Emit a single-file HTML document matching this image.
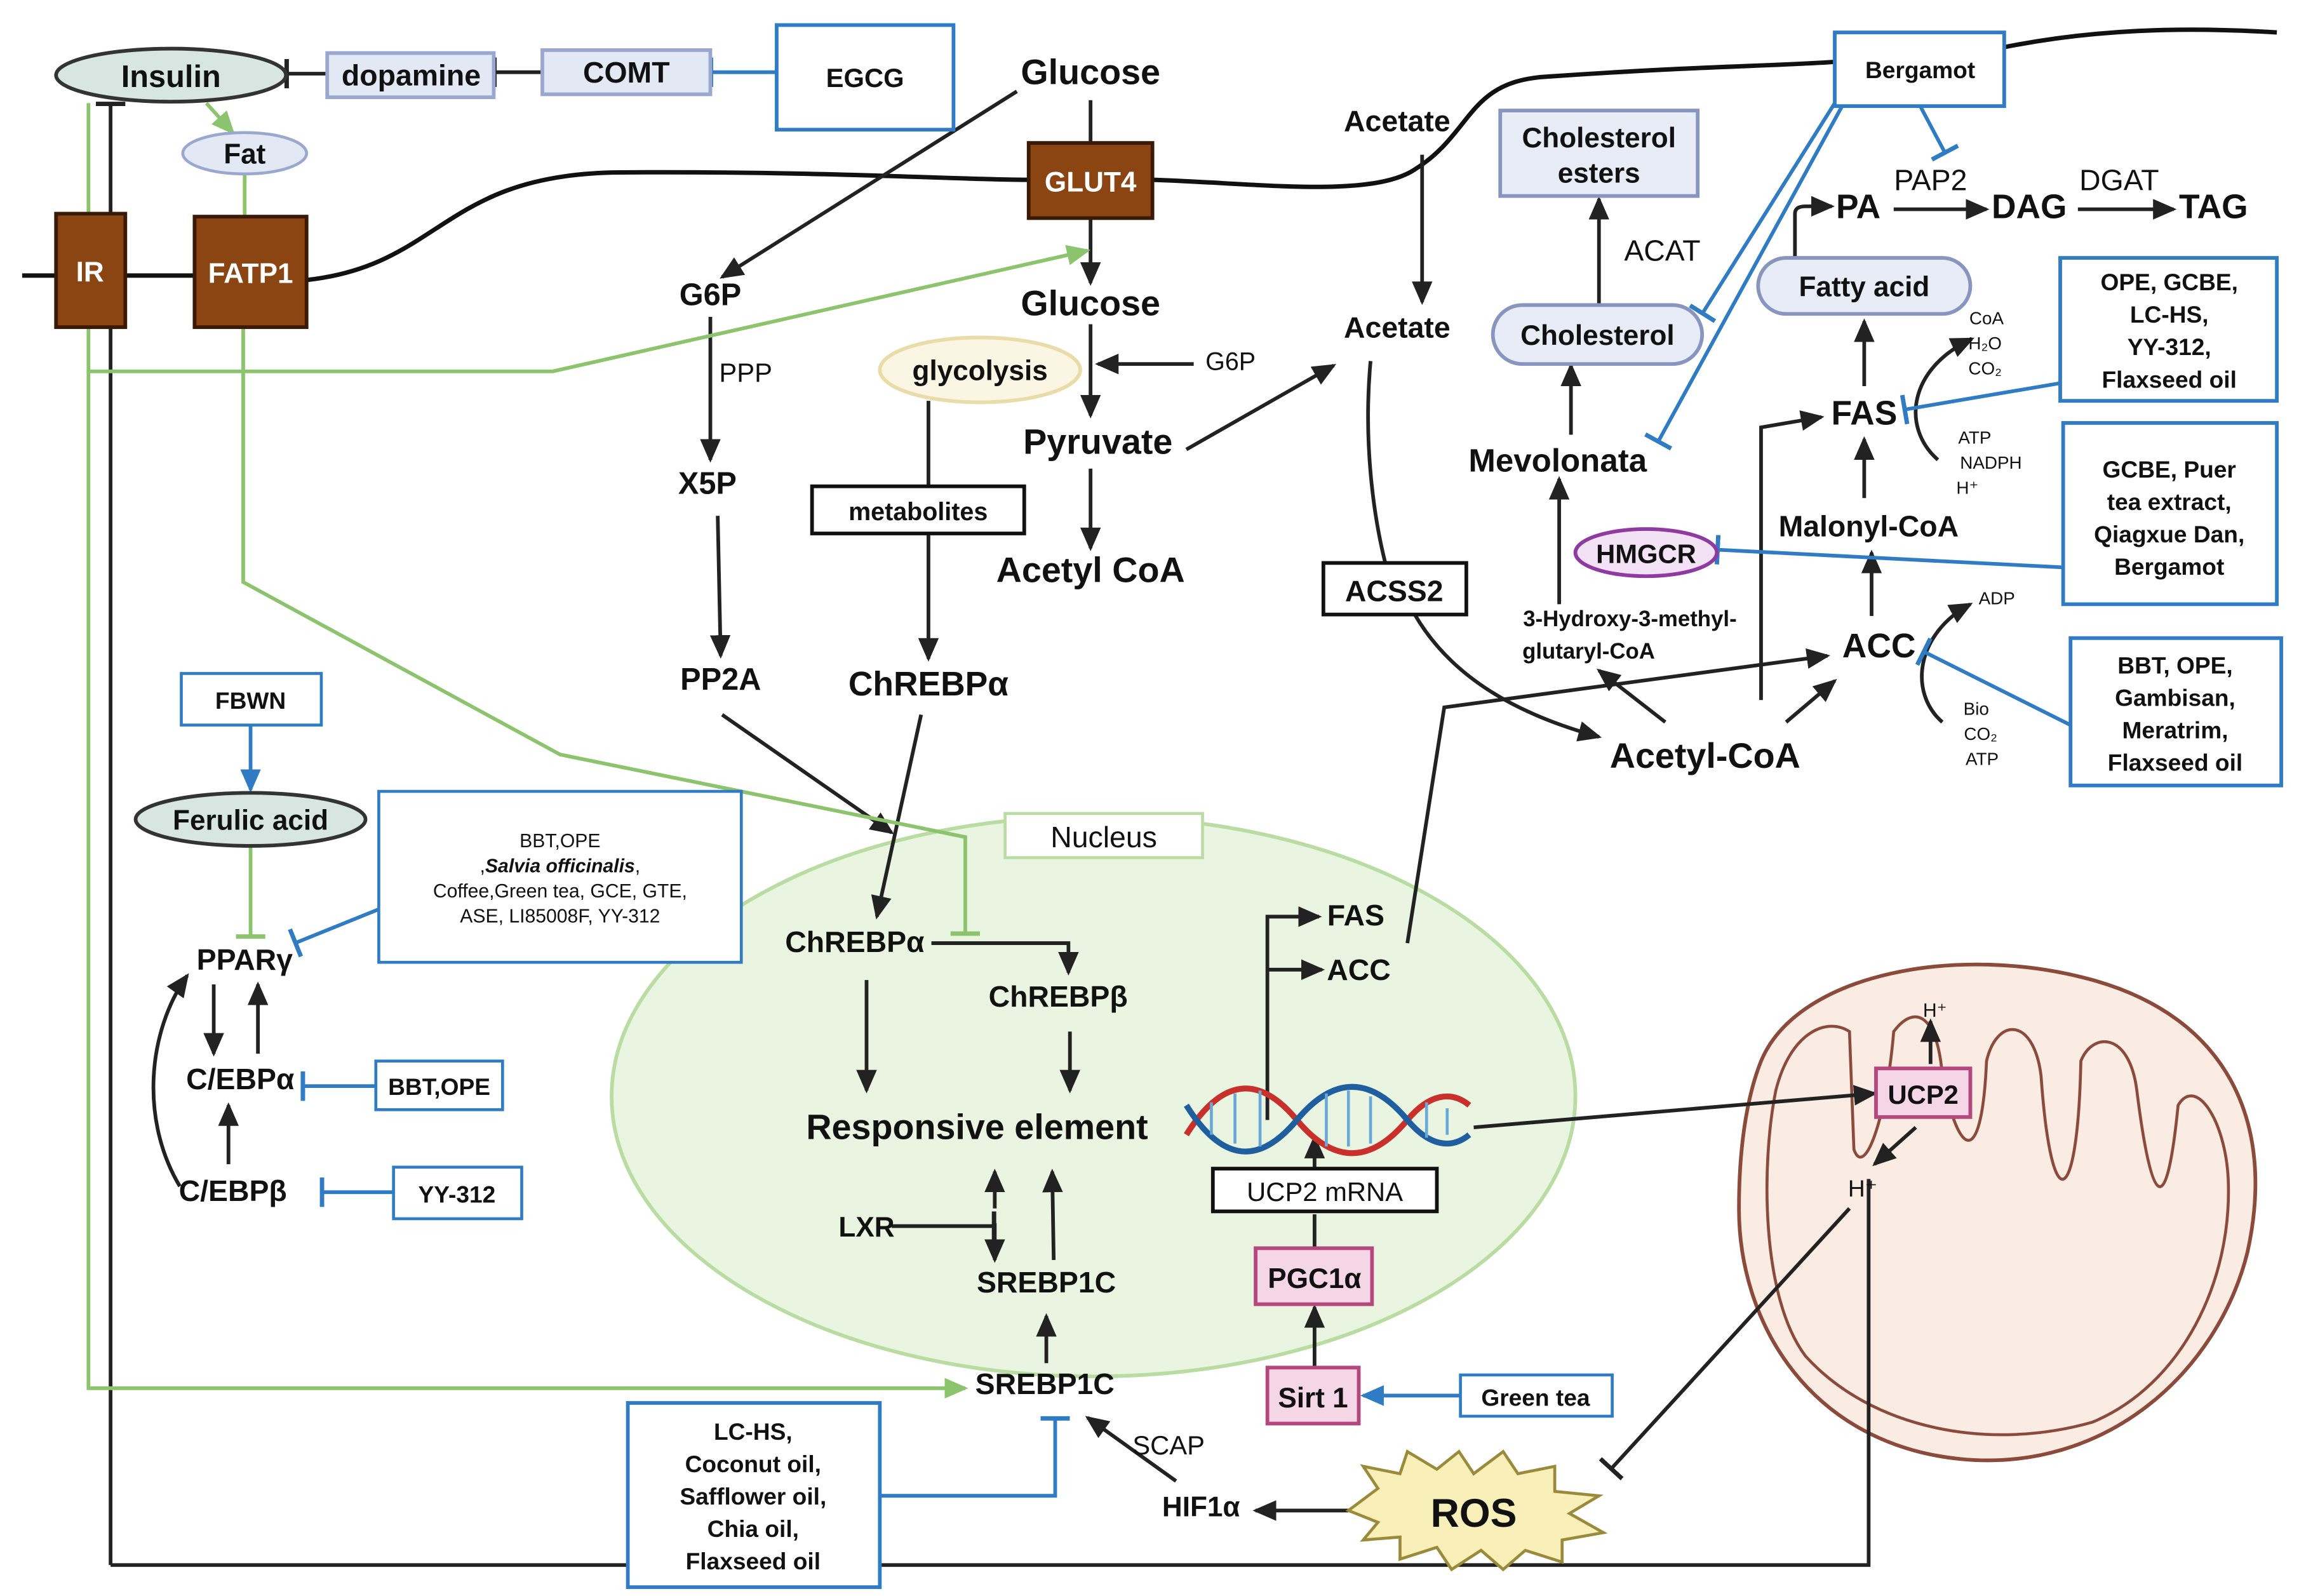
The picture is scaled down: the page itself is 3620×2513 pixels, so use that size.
<!DOCTYPE html>
<html><head><meta charset="utf-8"><style>
html,body{margin:0;padding:0;background:#fff}
svg{display:block}
text{font-family:"Liberation Sans",Arial,sans-serif;fill:#111}
.b{font-weight:bold}
</style></head><body>
<svg width="3620" height="2513" viewBox="0 0 1560 1083" xmlns="http://www.w3.org/2000/svg">
<defs>
<marker id="ak" markerUnits="userSpaceOnUse" markerWidth="16" markerHeight="14" refX="14" refY="7" orient="auto"><path d="M0,0 L16,7 L0,14 z" fill="#222"/></marker>
<marker id="ag" markerUnits="userSpaceOnUse" markerWidth="16" markerHeight="14" refX="14" refY="7" orient="auto"><path d="M0,0 L16,7 L0,14 z" fill="#8cc46e"/></marker>
<marker id="ab" markerUnits="userSpaceOnUse" markerWidth="16" markerHeight="14" refX="14" refY="7" orient="auto"><path d="M0,0 L16,7 L0,14 z" fill="#2f7cc4"/></marker>
<marker id="tk" markerUnits="userSpaceOnUse" markerWidth="4" markerHeight="20" refX="2" refY="10" orient="auto"><rect x="0" y="0" width="3" height="20" fill="#222"/></marker>
<marker id="tb" markerUnits="userSpaceOnUse" markerWidth="4" markerHeight="20" refX="2" refY="10" orient="auto"><rect x="0" y="0" width="3" height="20" fill="#2f7cc4"/></marker>
<marker id="tg" markerUnits="userSpaceOnUse" markerWidth="4" markerHeight="20" refX="2" refY="10" orient="auto"><rect x="0" y="0" width="3" height="20" fill="#8cc46e"/></marker>
</defs>

<path d="M15,187 L38,187 M85,187 L132,187 M208,190 C300,180 300,118 420,117 C560,116 650,122 698,122 M782,122 C850,124 930,135 960,115 C1000,90 995,55 1050,52 C1150,45 1200,45 1245,42 M1360,32 C1420,20 1480,18 1545,22" fill="none" stroke="#111" stroke-width="3"/>

<ellipse cx="742" cy="744" rx="327" ry="190" fill="#e9f5e1" stroke="#b9dca2" stroke-width="2.5"/>
<rect x="682" y="552" width="134" height="30" fill="#fff" stroke="#b9dca2" stroke-width="2"/>
<text x="749" y="575" font-size="20" text-anchor="middle" fill="#444">Nucleus</text>

<path d="M1195,720 C1220,660 1330,640 1420,665 C1510,690 1545,760 1525,850 C1505,930 1430,1000 1330,990 C1230,980 1180,900 1180,820 C1180,780 1185,745 1195,720 z" fill="#faece3" stroke="#8b4a3a" stroke-width="2.5"/>
<path d="M1205,740 C1215,700 1240,690 1255,700 L1258,780 C1265,800 1280,760 1285,700 C1300,680 1315,690 1318,730 C1330,790 1345,790 1348,720 C1355,690 1380,690 1385,730 C1392,830 1410,820 1412,720 C1420,700 1445,700 1450,740 C1460,820 1470,830 1478,750 C1490,730 1510,760 1512,800 C1515,870 1480,940 1420,965 C1350,985 1270,970 1225,920 C1195,880 1195,790 1205,740 z" fill="none" stroke="#8b4a3a" stroke-width="2"/>

<g stroke="#222" stroke-width="2.5" fill="none">
<path d="M222,50 L194,50" marker-end="url(#tk)"/>
<path d="M368,49 L335,49" marker-end="url(#tk)"/>
<path d="M75,1062 L75,70" marker-end="url(#tk)"/>
<path d="M75,1062 L1268,1062 L1268,800"/>
<path d="M740,68 L740,97"/>
<path d="M740,148 L740,192" marker-end="url(#ak)"/>
<path d="M740,220 L740,282" marker-end="url(#ak)"/>
<path d="M810,247 L745,247" marker-end="url(#ak)"/>
<path d="M740,318 L740,372" marker-end="url(#ak)"/>
<path d="M805,305 L905,248" marker-end="url(#ak)"/>
<path d="M690,62 L490,188" marker-end="url(#ak)"/>
<path d="M482,215 L482,312" marker-end="url(#ak)"/>
<path d="M487,350 L489,445" marker-end="url(#ak)"/>
<path d="M490,485 L605,565" marker-end="url(#ak)"/>
<path d="M630,272 L630,330"/>
<path d="M630,362 L630,447" marker-end="url(#ak)"/>
<path d="M625,485 L595,622" marker-end="url(#ak)"/>
<path d="M632,640 L725,640 L725,660" marker-end="url(#ak)"/>
<path d="M588,665 L588,740" marker-end="url(#ak)"/>
<path d="M726,700 L726,740" marker-end="url(#ak)"/>
<path d="M605,832 L675,832" marker-end="url(#tk)"/>
<path d="M675,820 L675,795" marker-end="url(#ak)"/>
<path d="M675,830 L675,855" marker-end="url(#ak)"/>
<path d="M715,855 L714,795" marker-end="url(#ak)"/>
<path d="M710,925 L710,893" marker-end="url(#ak)"/>
<path d="M798,1005 L738,962" marker-end="url(#ak)"/>
<path d="M915,1025 L852,1025" marker-end="url(#ak)"/>
<path d="M892,928 L892,887" marker-end="url(#ak)"/>
<path d="M892,847 L892,824"/>
<path d="M892,793 L892,772" marker-end="url(#ak)"/>
<path d="M860,760 L860,622 L895,622" marker-end="url(#ak)"/>
<path d="M860,658 L897,658" marker-end="url(#ak)"/>
<path d="M955,640 L980,480 L1240,445" marker-end="url(#ak)"/>
<path d="M1000,765 L1272,742" marker-end="url(#ak)"/>
<path d="M1310,722 L1310,693" marker-end="url(#ak)"/>
<path d="M1300,765 L1272,790" marker-end="url(#ak)"/>
<path d="M1255,820 L1093,997" marker-end="url(#tk)"/>
<path d="M965,105 L965,205" marker-end="url(#ak)"/>
<path d="M930,245 C925,300 932,350 940,382"/>
<path d="M960,417 C985,460 1030,485 1085,500" marker-end="url(#ak)"/>
<path d="M1130,490 L1085,455" marker-end="url(#ak)"/>
<path d="M1212,490 L1245,462" marker-end="url(#ak)"/>
<path d="M1058,410 L1058,325" marker-end="url(#ak)"/>
<path d="M1066,295 L1066,248" marker-end="url(#ak)"/>
<path d="M1085,207 L1085,135" marker-end="url(#ak)"/>
<path d="M1218,175 L1218,145 Q1218,140 1225,140 L1243,140" marker-end="url(#ak)"/>
<path d="M1285,142 L1348,142" marker-end="url(#ak)"/>
<path d="M1410,142 L1475,142" marker-end="url(#ak)"/>
<path d="M1265,262 L1265,218" marker-end="url(#ak)"/>
<path d="M1315,312 C1290,290 1295,250 1338,230" marker-end="url(#ak)"/>
<path d="M1265,338 L1265,298" marker-end="url(#ak)"/>
<path d="M1270,418 L1270,375" marker-end="url(#ak)"/>
<path d="M1195,475 L1195,290 L1236,283" marker-end="url(#ak)"/>
<path d="M1318,490 C1295,470 1300,430 1337,410" marker-end="url(#ak)"/>
<path d="M145,668 L145,715" marker-end="url(#ak)"/>
<path d="M175,715 L175,668" marker-end="url(#ak)"/>
<path d="M155,790 L155,750" marker-end="url(#ak)"/>
<path d="M122,805 C95,760 100,700 127,662" marker-end="url(#ak)"/>
</g>

<g stroke="#8cc46e" stroke-width="2.5" fill="none">
<path d="M140,70 L158,90" marker-end="url(#ag)"/>
<path d="M166,118 L166,147"/>
<path d="M60,70 L60,252 L375,252 L738,170" marker-end="url(#ag)"/>
<path d="M60,252 L60,942 L655,942" marker-end="url(#ag)"/>
<path d="M165,222 L165,395 L380,512 L655,568 L655,634" marker-end="url(#tg)"/>
<path d="M170,574 L170,636" marker-end="url(#tg)"/>
</g>

<g stroke="#2f7cc4" stroke-width="2.5" fill="none">
<path d="M527,49 L482,49" marker-end="url(#tb)"/>
<path d="M991,947 L925,947" marker-end="url(#ab)"/>
<path d="M597,1015 L716,1015 L716,962" marker-end="url(#tb)"/>
<path d="M170,492 L170,536" marker-end="url(#ab)"/>
<path d="M257,617 L200,640" marker-end="url(#tb)"/>
<path d="M255,737 L205,737" marker-end="url(#tb)"/>
<path d="M267,809 L218,809" marker-end="url(#tb)"/>
<path d="M1400,385 L1165,373" marker-end="url(#tb)"/>
<path d="M1245,70 L1155,213" marker-end="url(#tb)"/>
<path d="M1250,72 L1125,300" marker-end="url(#tb)"/>
<path d="M1303,72 L1320,104" marker-end="url(#tb)"/>
<path d="M1398,260 L1292,278" marker-end="url(#tb)"/>
<path d="M1405,492 L1305,442" marker-end="url(#tb)"/>
</g>

<g fill="none" stroke-width="4">
<path d="M805,770 C830,730 855,730 880,760 C905,790 930,790 955,760 C970,742 985,740 997,750" stroke="#c9302c"/>
<path d="M805,750 C830,790 855,790 880,760 C905,730 930,730 955,760 C970,778 985,780 997,770" stroke="#1f5fa0"/>
<g stroke="#6aa8d8" stroke-width="2"><path d="M822,748 v22 M838,742 v34 M855,740 v38 M900,742 v36 M915,740 v38 M930,744 v32 M968,748 v24 M982,752 v18"/></g>
</g>

<polygon points="915,1025 935,1010 925,995 950,1000 955,985 975,997 990,985 1000,1000 1020,985 1030,1000 1055,995 1055,1012 1085,1015 1065,1027 1088,1040 1060,1045 1060,1060 1035,1052 1020,1065 1005,1052 985,1065 975,1050 950,1058 950,1043 925,1045 935,1033" fill="#f9efb8" stroke="#9a8a3a" stroke-width="2"/>
<text x="1000" y="1036" font-size="27" class="b" text-anchor="middle">ROS</text>

<ellipse cx="116" cy="51" rx="78" ry="18" fill="#d7e6e0" stroke="#333" stroke-width="2.5"/>
<text x="116" y="59" font-size="21" class="b" text-anchor="middle">Insulin</text>
<rect x="222" y="36" width="113" height="30" fill="#e3e8f5" stroke="#9aa8d0" stroke-width="2.5"/>
<text x="279" y="58" font-size="20" class="b" text-anchor="middle">dopamine</text>
<rect x="368" y="34" width="114" height="30" fill="#e3e8f5" stroke="#9aa8d0" stroke-width="2.5"/>
<text x="425" y="56" font-size="20" class="b" text-anchor="middle">COMT</text>
<rect x="527" y="17" width="120" height="71" fill="#fff" stroke="#2f7cc4" stroke-width="2.5"/>
<text x="587" y="59" font-size="18" class="b" text-anchor="middle">EGCG</text>
<ellipse cx="166" cy="104" rx="42" ry="14" fill="#e3e8f5" stroke="#9aa8d0" stroke-width="2"/>
<text x="166" y="111" font-size="19" class="b" text-anchor="middle">Fat</text>
<rect x="38" y="145" width="47" height="77" fill="#8b4513" stroke="#3a1a05" stroke-width="2.5"/>
<text x="61" y="191" font-size="19" class="b" text-anchor="middle" style="fill:#fff">IR</text>
<rect x="132" y="147" width="76" height="75" fill="#8b4513" stroke="#3a1a05" stroke-width="2.5"/>
<text x="170" y="192" font-size="19" class="b" text-anchor="middle" style="fill:#fff">FATP1</text>
<rect x="698" y="97" width="84" height="51" fill="#8b4513" stroke="#3a1a05" stroke-width="2.5"/>
<text x="740" y="130" font-size="19" class="b" text-anchor="middle" style="fill:#fff">GLUT4</text>
<ellipse cx="665" cy="251" rx="68" ry="22" fill="#fbf6e3" stroke="#e9dca8" stroke-width="2.5"/>
<text x="665" y="258" font-size="19" class="b" text-anchor="middle">glycolysis</text>
<rect x="551" y="330" width="144" height="32" fill="#fff" stroke="#111" stroke-width="2.5"/>
<text x="623" y="353" font-size="17" class="b" text-anchor="middle">metabolites</text>
<rect x="898" y="382" width="97" height="35" fill="#fff" stroke="#111" stroke-width="2.5"/>
<text x="946" y="408" font-size="20" class="b" text-anchor="middle">ACSS2</text>
<rect x="823" y="793" width="152" height="29" fill="#fff" stroke="#111" stroke-width="2.5"/>
<text x="899" y="815" font-size="18" text-anchor="middle">UCP2 mRNA</text>
<rect x="852" y="847" width="79" height="38" fill="#f4d6e7" stroke="#b5477f" stroke-width="2.5"/>
<text x="892" y="874" font-size="19" class="b" text-anchor="middle">PGC1α</text>
<rect x="860" y="928" width="62" height="38" fill="#f4d6e7" stroke="#b5477f" stroke-width="2.5"/>
<text x="891" y="955" font-size="19" class="b" text-anchor="middle">Sirt 1</text>
<rect x="1273" y="725" width="64" height="33" fill="#f4d6e7" stroke="#b5477f" stroke-width="2.5"/>
<text x="1305" y="749" font-size="18" class="b" text-anchor="middle">UCP2</text>
<rect x="991" y="933" width="103" height="28" fill="#fff" stroke="#2f7cc4" stroke-width="2"/>
<text x="1042" y="954" font-size="16" class="b" text-anchor="middle">Green tea</text>
<rect x="426" y="952" width="171" height="125" fill="#fff" stroke="#2f7cc4" stroke-width="2.5"/>
<g font-size="16" class="b" text-anchor="middle"><text x="511" y="977">LC-HS,</text><text x="511" y="999">Coconut oil,</text><text x="511" y="1021">Safflower oil,</text><text x="511" y="1043">Chia oil,</text><text x="511" y="1065">Flaxseed oil</text></g>
<rect x="123" y="457" width="95" height="35" fill="#fff" stroke="#2f7cc4" stroke-width="2"/>
<text x="170" y="481" font-size="16" class="b" text-anchor="middle">FBWN</text>
<ellipse cx="170" cy="556" rx="78" ry="18" fill="#d7e6e0" stroke="#333" stroke-width="2.5"/>
<text x="170" y="563" font-size="19" class="b" text-anchor="middle">Ferulic acid</text>
<rect x="257" y="537" width="246" height="116" fill="#fff" stroke="#2f7cc4" stroke-width="2"/>
<g font-size="13" text-anchor="middle"><text x="380" y="575">BBT,OPE</text><text x="380" y="592">,<tspan font-style="italic" font-weight="bold">Salvia officinalis</tspan>,</text><text x="380" y="609">Coffee,Green tea, GCE, GTE,</text><text x="380" y="626">ASE, LI85008F, YY-312</text></g>
<rect x="255" y="720" width="86" height="33" fill="#fff" stroke="#2f7cc4" stroke-width="2"/>
<text x="298" y="743" font-size="16" class="b" text-anchor="middle">BBT,OPE</text>
<rect x="267" y="792" width="87" height="35" fill="#fff" stroke="#2f7cc4" stroke-width="2"/>
<text x="310" y="816" font-size="16" class="b" text-anchor="middle">YY-312</text>
<rect x="1018" y="75" width="134" height="58" fill="#e8ecf6" stroke="#8795c0" stroke-width="2.5"/>
<text x="1085" y="100" font-size="19" class="b" text-anchor="middle">Cholesterol</text>
<text x="1085" y="124" font-size="19" class="b" text-anchor="middle">esters</text>
<rect x="1013" y="207" width="142" height="40" rx="20" fill="#e8ecf6" stroke="#8795c0" stroke-width="2.5"/>
<text x="1084" y="234" font-size="19" class="b" text-anchor="middle">Cholesterol</text>
<rect x="1193" y="175" width="144" height="38" rx="19" fill="#e8ecf6" stroke="#8795c0" stroke-width="2.5"/>
<text x="1265" y="201" font-size="19" class="b" text-anchor="middle">Fatty acid</text>
<ellipse cx="1117" cy="375" rx="48" ry="16" fill="#f3e2f5" stroke="#8e3aa0" stroke-width="2.5"/>
<text x="1117" y="382" font-size="18" class="b" text-anchor="middle">HMGCR</text>
<rect x="1245" y="22" width="115" height="50" fill="#fff" stroke="#2f7cc4" stroke-width="2.5"/>
<text x="1303" y="53" font-size="16" class="b" text-anchor="middle">Bergamot</text>
<rect x="1398" y="175" width="147" height="97" fill="#fff" stroke="#2f7cc4" stroke-width="2.5"/>
<g font-size="16" class="b" text-anchor="middle"><text x="1472" y="197">OPE, GCBE,</text><text x="1472" y="219">LC-HS,</text><text x="1472" y="241">YY-312,</text><text x="1472" y="263">Flaxseed oil</text></g>
<rect x="1400" y="287" width="145" height="123" fill="#fff" stroke="#2f7cc4" stroke-width="2.5"/>
<g font-size="16" class="b" text-anchor="middle"><text x="1472" y="324">GCBE, Puer</text><text x="1472" y="346">tea extract,</text><text x="1472" y="368">Qiagxue Dan,</text><text x="1472" y="390">Bergamot</text></g>
<rect x="1405" y="433" width="143" height="100" fill="#fff" stroke="#2f7cc4" stroke-width="2.5"/>
<g font-size="16" class="b" text-anchor="middle"><text x="1476" y="457">BBT, OPE,</text><text x="1476" y="479">Gambisan,</text><text x="1476" y="501">Meratrim,</text><text x="1476" y="523">Flaxseed oil</text></g>

<g class="b" text-anchor="middle">
<text x="740" y="57" font-size="24">Glucose</text>
<text x="740" y="214" font-size="24">Glucose</text>
<text x="745" y="308" font-size="24">Pyruvate</text>
<text x="740" y="395" font-size="24">Acetyl CoA</text>
<text x="482" y="207" font-size="21">G6P</text>
<text x="480" y="335" font-size="21">X5P</text>
<text x="489" y="468" font-size="21">PP2A</text>
<text x="630" y="472" font-size="23">ChREBPα</text>
<text x="580" y="646" font-size="20">ChREBPα</text>
<text x="718" y="683" font-size="20">ChREBPβ</text>
<text x="663" y="773" font-size="24">Responsive element</text>
<text x="588" y="839" font-size="19">LXR</text>
<text x="710" y="877" font-size="20">SREBP1C</text>
<text x="709" y="946" font-size="20">SREBP1C</text>
<text x="815" y="1029" font-size="19">HIF1α</text>
<text x="920" y="628" font-size="20">FAS</text>
<text x="922" y="665" font-size="20">ACC</text>
<text x="948" y="89" font-size="20">Acetate</text>
<text x="948" y="229" font-size="20">Acetate</text>
<text x="1057" y="320" font-size="22">Mevolonata</text>
<text x="1157" y="521" font-size="24">Acetyl-CoA</text>
<text x="1106" y="425" font-size="15">3-Hydroxy-3-methyl-</text>
<text x="1078" y="447" font-size="15">glutaryl-CoA</text>
<text x="1261" y="148" font-size="23">PA</text>
<text x="1377" y="148" font-size="23">DAG</text>
<text x="1502" y="148" font-size="23">TAG</text>
<text x="1265" y="288" font-size="23">FAS</text>
<text x="1268" y="364" font-size="20">Malonyl-CoA</text>
<text x="1275" y="446" font-size="23">ACC</text>
<text x="166" y="658" font-size="20">PPARγ</text>
<text x="163" y="739" font-size="20">C/EBPα</text>
<text x="158" y="815" font-size="20">C/EBPβ</text>
</g>
<g text-anchor="middle" fill="#222">
<text x="506" y="259" font-size="18">PPP</text>
<text x="835" y="251" font-size="17">G6P</text>
<text x="1128" y="177" font-size="20">ACAT</text>
<text x="1310" y="129" font-size="20">PAP2</text>
<text x="1438" y="129" font-size="20">DGAT</text>
<text x="793" y="987" font-size="18">SCAP</text>
<text x="1313" y="690" font-size="13">H⁺</text>
<text x="1264" y="812" font-size="16">H⁺</text>
<text x="1348" y="220" font-size="12">CoA</text>
<text x="1347" y="237" font-size="12">H₂O</text>
<text x="1347" y="254" font-size="12">CO₂</text>
<text x="1340" y="301" font-size="12">ATP</text>
<text x="1351" y="318" font-size="12">NADPH</text>
<text x="1335" y="335" font-size="12">H⁺</text>
<text x="1355" y="410" font-size="12">ADP</text>
<text x="1341" y="485" font-size="12">Bio</text>
<text x="1344" y="502" font-size="12">CO₂</text>
<text x="1345" y="519" font-size="12">ATP</text>
</g>
</svg>
</body></html>
